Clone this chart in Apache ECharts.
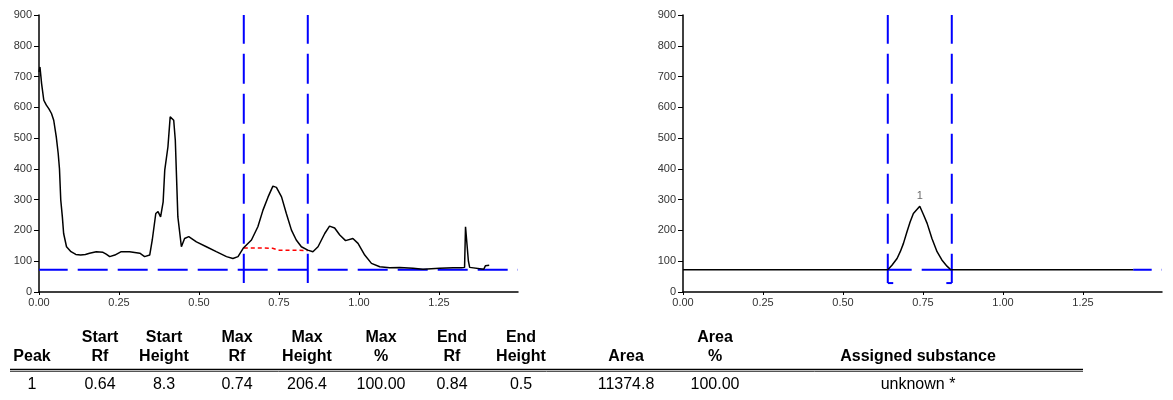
<!DOCTYPE html>
<html>
<head>
<meta charset="utf-8">
<script src="https://cdn.jsdelivr.net/npm/echarts@6/dist/echarts.min.js"></script>
<style>
  html, body { margin: 0; padding: 0; background: #fff; }
  #chart { width: 1173px; height: 400px; }
</style>
</head>
<body>
<div id="chart"></div>
<script>
// Full densitometric scan of the track (Rf vs. signal)
const scanRf = [
  0.000, 0.003, 0.006, 0.008, 0.015, 0.023, 0.031, 0.039, 0.046, 0.054,
  0.060, 0.064, 0.068, 0.073, 0.077, 0.086, 0.100, 0.115, 0.130, 0.145,
  0.158, 0.179, 0.200, 0.210, 0.221, 0.237, 0.257, 0.283, 0.315, 0.330,
  0.346, 0.354, 0.365, 0.372, 0.380, 0.388, 0.393, 0.403, 0.410, 0.415,
  0.421, 0.426, 0.434, 0.445, 0.455, 0.468, 0.492, 0.523, 0.554, 0.586,
  0.606, 0.622, 0.638, 0.664, 0.684, 0.700, 0.716, 0.731, 0.742, 0.758,
  0.773, 0.789, 0.804, 0.820, 0.840, 0.856, 0.872, 0.893, 0.908, 0.924,
  0.940, 0.958, 0.981, 0.997, 1.018, 1.039, 1.065, 1.096, 1.127, 1.169,
  1.200, 1.252, 1.294, 1.320, 1.330, 1.333, 1.338, 1.342, 1.346, 1.352,
  1.390, 1.395, 1.407
];
const scanSignal = [
  715, 731, 700, 678, 623, 607, 595, 580, 558, 504,
  450, 400, 299, 244, 190, 147, 131, 122, 120, 122,
  126, 131, 129, 123, 115, 120, 131, 131, 126, 115,
  120, 169, 255, 261, 244, 293, 396, 472, 569, 574,
  558, 493, 244, 147, 174, 180, 163, 147, 131, 115,
  109, 115, 142, 169, 212, 266, 309, 344, 340, 309,
  255, 201, 169, 147, 136, 131, 147, 190, 214, 208,
  185, 167, 174, 158, 120, 93, 82, 79, 80, 77,
  74, 77, 79, 79, 80, 212, 217, 100, 80, 74,
  74, 85, 87
];

// Integration baseline under the peak (red dotted)
const integBaseRf = [0.64, 0.70, 0.73, 0.75, 0.84];
const integBaseSignal = [143, 143, 142, 136, 135];

// Integrated peak 1 on the flat baseline
const peakRf = [
  0.640, 0.643, 0.653, 0.669, 0.679, 0.689, 0.700, 0.710, 0.720, 0.740,
  0.745, 0.752, 0.763, 0.778, 0.794, 0.809, 0.825, 0.836, 0.840
];
const peakSignal = [
  72, 73, 87, 109, 131, 158, 196, 228, 255, 278.4,
  272, 250, 223, 174, 131, 104, 84, 73, 72
];
const peakNames = ['1'];

// Window and baseline levels
const baselineLevel = 72;
const windowStartRf = 0.64;
const windowEndRf = 0.84;
const windowTop = 900;
const windowBottom = 29;
const scanEndRf = 1.407;
const rfMax = 1.497;

// Axis ticks
const xTickValues = [0, 0.25, 0.5, 0.75, 1.0, 1.25];
const yMax = 900;
const yStep = 100;

// Result table
const tableHeaderTop = ['', 'Start', 'Start', 'Max', 'Max', 'Max', 'End', 'End', '', 'Area', ''];
const tableHeaderBottom = ['Peak', 'Rf', 'Height', 'Rf', 'Height', '%', 'Rf', 'Height', 'Area', '%', 'Assigned substance'];
const tableRow = ['1', '0.64', '8.3', '0.74', '206.4', '100.00', '0.84', '0.5', '11374.8', '100.00', 'unknown *'];

// ---- layout ----
const FONT = '"Liberation Sans", Arial, sans-serif';
const BLUE = '#0000ff';
const PLOT_W = 479;
const DASH = [30, 10];
const colCenters = [32, 100, 164, 237, 307, 381, 452, 521, 626, 715, 918];

const pairs = (xs, ys) => xs.map((x, i) => [x, ys[i]]);

// keep the dash phase continuous when a dashed line is split in pieces
const dashFrom = rf => ({
  color: BLUE, width: 2, type: DASH,
  dashOffset: (1.3 + rf * PLOT_W / rfMax) % 40
});
const blueDash = { color: BLUE, width: 2, type: DASH, dashOffset: 1.3 };

function lineSeries(gi, data, lineStyle, z) {
  return {
    type: 'line', xAxisIndex: gi, yAxisIndex: gi, data,
    symbol: 'none', showSymbol: false, silent: true, animation: false,
    lineStyle, z: z || 2
  };
}

function xAxisFor(gi) {
  return {
    type: 'value', gridIndex: gi, min: 0, max: rfMax,
    axisLine: { show: true, onZero: false, lineStyle: { color: '#000', width: 1.5 } },
    axisTick: { show: true, length: 3, customValues: xTickValues, lineStyle: { color: '#000', width: 1 } },
    axisLabel: {
      customValues: xTickValues, formatter: v => v.toFixed(2),
      fontFamily: FONT, fontSize: 11, color: '#333', margin: 5
    },
    splitLine: { show: false }
  };
}

function yAxisFor(gi) {
  return {
    type: 'value', gridIndex: gi, min: 0, max: yMax, interval: yStep,
    axisLine: { show: true, onZero: false, lineStyle: { color: '#000', width: 1.5 } },
    axisTick: { show: true, length: 5, lineStyle: { color: '#000', width: 1 } },
    axisLabel: { fontFamily: FONT, fontSize: 11, color: '#333', margin: 7 },
    splitLine: { show: false }
  };
}

const windowVerticals = gi => [
  lineSeries(gi, [[windowStartRf, windowTop], [windowStartRf, windowBottom]], blueDash, 1),
  lineSeries(gi, [[windowEndRf, windowTop], [windowEndRf, windowBottom]], blueDash, 1)
];

const leftStub = [[0, baselineLevel], [windowStartRf, baselineLevel]];
const rightStub = [[windowEndRf, baselineLevel], [scanEndRf, baselineLevel]];
const peakTopIdx = peakSignal.indexOf(Math.max(...peakSignal));

// table graphics
const tableGraphics = [];
const txt = (text, x, y, bold) => ({
  type: 'text', x, y, silent: true,
  style: {
    text, fill: '#000', align: 'center', verticalAlign: 'middle',
    fontFamily: FONT, fontSize: 16, fontWeight: bold ? 'bold' : 'normal'
  }
});
tableHeaderTop.forEach((t, i) => { if (t) tableGraphics.push(txt(t, colCenters[i], 338, true)); });
tableHeaderBottom.forEach((t, i) => tableGraphics.push(txt(t, colCenters[i], 357, true)));
tableRow.forEach((t, i) => tableGraphics.push(txt(t, colCenters[i], 385, false)));
tableGraphics.push({ type: 'line', silent: true, shape: { x1: 10, y1: 369.5, x2: 1083, y2: 369.5 }, style: { stroke: '#000', lineWidth: 1.5 } });
tableGraphics.push({ type: 'line', silent: true, shape: { x1: 10, y1: 371.5, x2: 1083, y2: 371.5 }, style: { stroke: '#555', lineWidth: 1 } });

const chart = echarts.init(document.getElementById('chart'), null, { renderer: 'canvas' });
chart.setOption({
  animation: false,
  backgroundColor: '#fff',
  grid: [
    { left: 39, top: 15, width: PLOT_W, height: 277 },
    { left: 683, top: 15, width: PLOT_W, height: 277 }
  ],
  xAxis: [xAxisFor(0), xAxisFor(1)],
  yAxis: [yAxisFor(0), yAxisFor(1)],
  graphic: tableGraphics,
  series: [
    // left: raw scan with integration window
    lineSeries(0, [[0, baselineLevel], [rfMax, baselineLevel]], blueDash, 1),
    ...windowVerticals(0),
    lineSeries(0, pairs(integBaseRf, integBaseSignal), { color: '#ff0000', width: 1.5, type: [4, 3] }, 3),
    lineSeries(0, pairs(scanRf, scanSignal), { color: '#000', width: 1.5 }, 4),

    // right: integrated peak on flat baseline
    lineSeries(1, [[windowStartRf, baselineLevel], [windowEndRf, baselineLevel]], dashFrom(windowStartRf), 1),
    lineSeries(1, [[scanEndRf, baselineLevel], [rfMax, baselineLevel]], dashFrom(scanEndRf), 1),
    ...windowVerticals(1),
    lineSeries(1, [[windowStartRf, windowBottom], [windowStartRf + 0.017, windowBottom]], { color: BLUE, width: 2 }, 1),
    lineSeries(1, [[windowEndRf - 0.017, windowBottom], [windowEndRf, windowBottom]], { color: BLUE, width: 2 }, 1),
    lineSeries(1, leftStub, { color: '#000', width: 1.5 }, 4),
    lineSeries(1, pairs(peakRf, peakSignal), { color: '#000', width: 1.5 }, 4),
    lineSeries(1, rightStub, { color: '#000', width: 1.5 }, 4),
    {
      type: 'scatter', xAxisIndex: 1, yAxisIndex: 1, silent: true, animation: false,
      symbolSize: 1, itemStyle: { color: 'rgba(0,0,0,0)' },
      data: [[peakRf[peakTopIdx], peakSignal[peakTopIdx]]],
      label: {
        show: true, position: 'top', distance: 4, formatter: () => peakNames[0],
        fontFamily: FONT, fontSize: 11, color: '#444'
      }
    }
  ]
});
</script>
</body>
</html>
